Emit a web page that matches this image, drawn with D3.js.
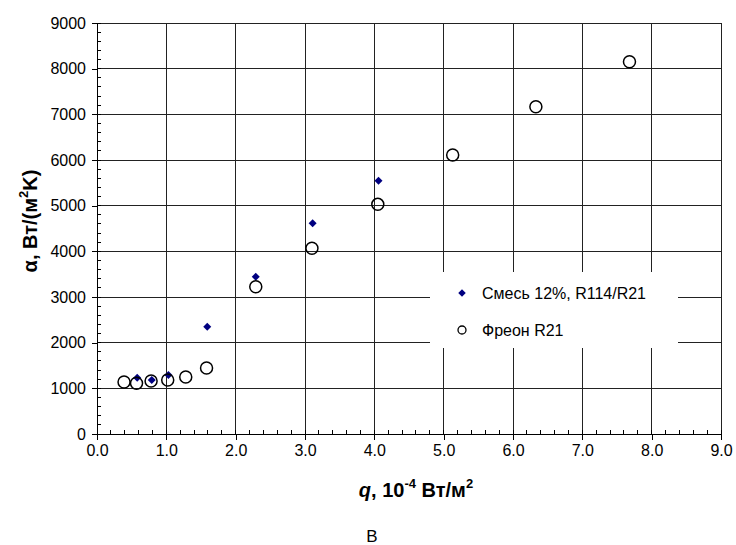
<!DOCTYPE html>
<html>
<head>
<meta charset="utf-8">
<script src="https://cdn.jsdelivr.net/npm/d3@7"></script>
<style>
  body { margin: 0; background: #fff; }
  text { font-family: "Liberation Sans", Arial, sans-serif; }
</style>
</head>
<body>
<div id="chart"></div>
<script>
// Смесь 12%, R114/R21
var mixQ = [0.58, 0.79, 1.03, 1.59, 2.29, 3.11, 4.06];
var mixA = [1233, 1182, 1292, 2350, 3445, 4613, 5547];
// Фреон R21
var r21Q = [0.39, 0.57, 0.78, 1.02, 1.28, 1.58, 2.29, 3.10, 4.05, 5.13, 6.33, 7.68];
var r21A = [1139, 1110, 1160, 1182, 1248, 1445, 3225, 4066, 5029, 6109, 7167, 8152];

var xTicks = [0, 1, 2, 3, 4, 5, 6, 7, 8, 9];
var yTicks = [0, 1000, 2000, 3000, 4000, 5000, 6000, 7000, 8000, 9000];
var legendLabels = ['Смесь 12%, R114/R21', 'Фреон R21'];

var W = 736, H = 545;
var m = { top: 23, right: 15, bottom: 111, left: 97 };

var svg = d3.select('#chart').append('svg')
    .attr('width', W).attr('height', H);

var x = d3.scaleLinear().domain([0, 9]).range([m.left, W - m.right]);
var y = d3.scaleLinear().domain([0, 9000]).range([H - m.bottom, m.top]);

var g = svg.append('g');

// grid
g.selectAll('line.gx').data(xTicks.slice(1)).enter().append('line')
    .attr('x1', d => x(d)).attr('x2', d => x(d))
    .attr('y1', y(0)).attr('y2', y(9000))
    .attr('stroke', '#222').attr('stroke-width', 1).attr('shape-rendering', 'crispEdges');
g.selectAll('line.gy').data(yTicks.slice(1)).enter().append('line')
    .attr('x1', x(0)).attr('x2', x(9))
    .attr('y1', d => y(d)).attr('y2', d => y(d))
    .attr('stroke', '#222').attr('stroke-width', 1).attr('shape-rendering', 'crispEdges');

// minor ticks (inside)
var xMinor = d3.range(0, 9.01, 0.2);
var yMinor = d3.range(0, 9001, 200);
g.selectAll('line.mx').data(xMinor).enter().append('line')
    .attr('x1', d => x(d)).attr('x2', d => x(d))
    .attr('y1', y(0)).attr('y2', y(0) - 4)
    .attr('stroke', '#000').attr('shape-rendering', 'crispEdges');
g.selectAll('line.my').data(yMinor).enter().append('line')
    .attr('x1', x(0)).attr('x2', x(0) + 4)
    .attr('y1', d => y(d)).attr('y2', d => y(d))
    .attr('stroke', '#000').attr('shape-rendering', 'crispEdges');

// axes
var xAxis = d3.axisBottom(x).tickValues(xTicks).tickSize(6).tickPadding(5)
    .tickFormat(d3.format('.1f'));
var yAxis = d3.axisLeft(y).tickValues(yTicks).tickSize(5).tickPadding(6)
    .tickFormat(d3.format('d'));

var gx = svg.append('g').attr('transform', 'translate(0,' + y(0) + ')').call(xAxis);
var gy = svg.append('g').attr('transform', 'translate(' + x(0) + ',0)').call(yAxis);
[gx, gy].forEach(function (a) {
  a.select('.domain').attr('stroke', '#000').attr('shape-rendering', 'crispEdges');
  a.selectAll('.tick line').attr('stroke', '#000').attr('shape-rendering', 'crispEdges');
  a.selectAll('.tick text').attr('font-size', 16)
      .attr('font-family', '"Liberation Sans", Arial, sans-serif').attr('fill', '#000');
});

// data
var diamond = d3.symbol().type(d3.symbolSquare).size(32);
var mix = mixQ.map((q, i) => ({ q: q, a: mixA[i] }));
var r21 = r21Q.map((q, i) => ({ q: q, a: r21A[i] }));

svg.append('g').selectAll('path').data(mix).enter().append('path')
    .attr('d', diamond)
    .attr('transform', d => 'translate(' + x(d.q) + ',' + y(d.a) + ') rotate(45)')
    .attr('fill', '#000080');

svg.append('g').selectAll('circle').data(r21).enter().append('circle')
    .attr('cx', d => x(d.q)).attr('cy', d => y(d.a)).attr('r', 6)
    .attr('fill', 'none').attr('stroke', '#000').attr('stroke-width', 1.5);

// legend
var lg = svg.append('g');
lg.append('rect').attr('x', 430).attr('y', 272).attr('width', 248).attr('height', 76)
    .attr('fill', '#fff');
lg.append('path').attr('d', d3.symbol().type(d3.symbolSquare).size(28))
    .attr('transform', 'translate(462,293) rotate(45)').attr('fill', '#000080');
lg.append('circle').attr('cx', 462).attr('cy', 330).attr('r', 4)
    .attr('fill', 'none').attr('stroke', '#000').attr('stroke-width', 1.3);
lg.selectAll('text').data(legendLabels).enter().append('text')
    .attr('x', 482).attr('y', (d, i) => 293 + i * 37)
    .attr('dy', '0.35em').attr('font-size', 16).text(d => d);

// axis titles
var xt = svg.append('text').attr('x', 416).attr('y', 497)
    .attr('text-anchor', 'middle').attr('font-size', 20).attr('font-weight', 'bold');
xt.append('tspan').attr('font-style', 'italic').text('q');
xt.append('tspan').text(', 10');
xt.append('tspan').attr('font-size', 13).attr('dy', -9).text('-4');
xt.append('tspan').attr('dy', 9).text(' Вт/м');
xt.append('tspan').attr('font-size', 13).attr('dy', -9).text('2');

var yt = svg.append('text').attr('transform', 'translate(37,221) rotate(-90)')
    .attr('text-anchor', 'middle').attr('font-size', 20).attr('font-weight', 'bold');
yt.append('tspan').text('α, Вт/(м');
yt.append('tspan').attr('font-size', 13).attr('dy', -9).text('2');
yt.append('tspan').attr('dy', 9).text('K)');

svg.append('text').attr('x', 372).attr('y', 542).attr('text-anchor', 'middle')
    .attr('font-family', '"Liberation Serif", "Times New Roman", serif')
    .attr('font-size', 17).text('В');
</script>
</body>
</html>
